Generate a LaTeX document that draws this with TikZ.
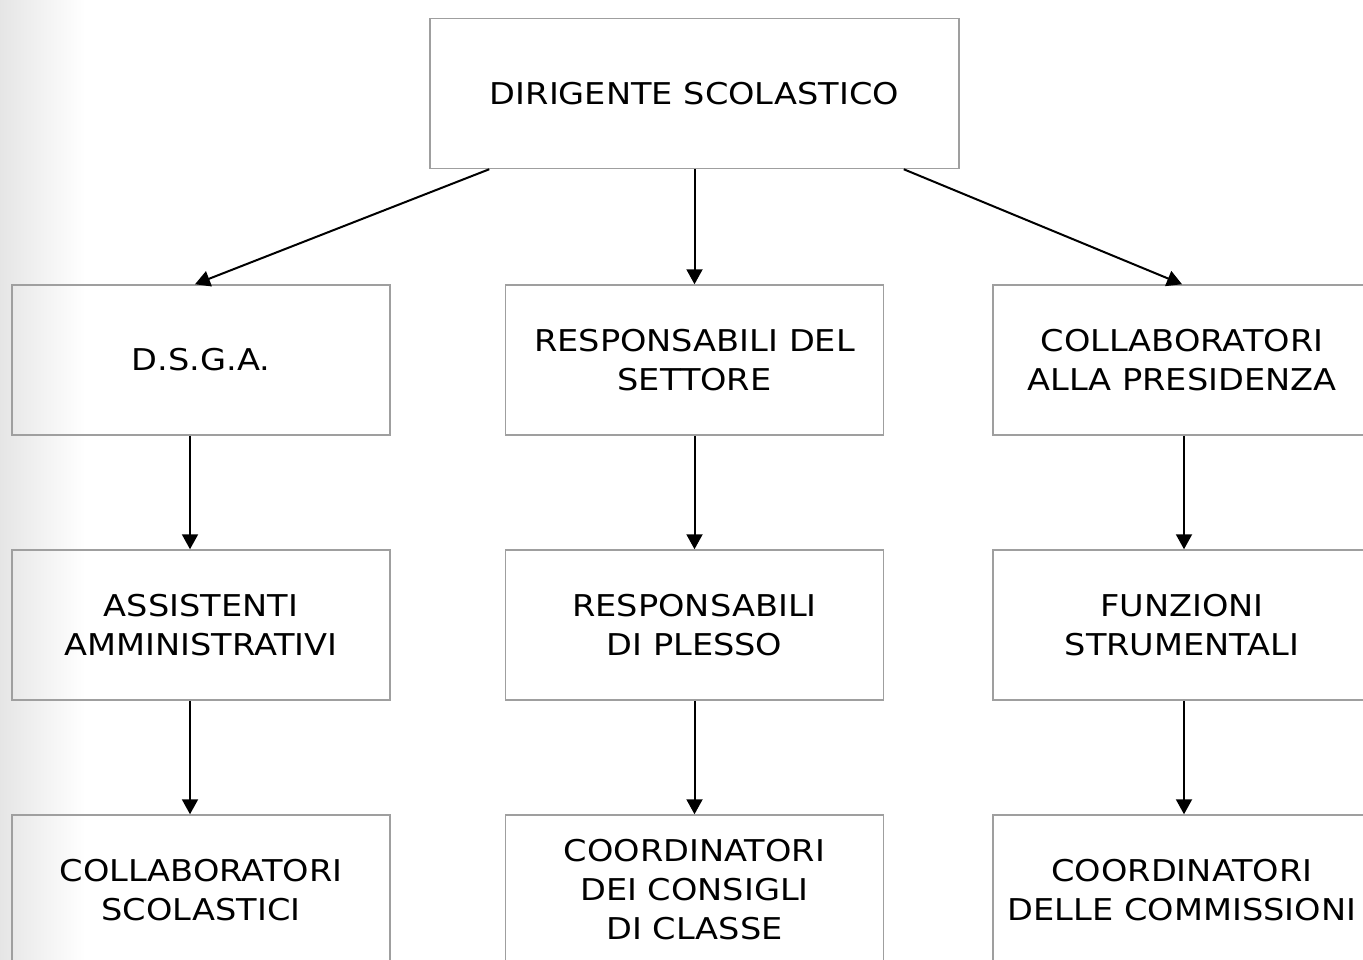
\documentclass[tikz,border=0pt]{standalone}
\usepackage{fontspec}
\setmainfont[FakeStretch=1.12]{DejaVu Sans}
\usetikzlibrary{arrows.meta}

\begin{document}
\begin{tikzpicture}[
  x=1pt, y=-1pt,
  every node/.style={
    draw=gray!75,
    line width=1.5pt,
    rectangle,
    align=center,
    minimum width=378pt,
    minimum height=150pt,
    font=\fontsize{30}{39}\selectfont,
  },
  link/.style={line width=2pt,-{Triangle[length=15pt,width=16pt]}},
  ]
  \useasboundingbox (0,0) rectangle (1363,959);
  \clip (0,0) rectangle (1363,959);
  \shade[left color=black!10, right color=white] (0,0) rectangle (85,959);

  \node[minimum width=529pt] (ds) at (694.5,93.5) {DIRIGENTE SCOLASTICO};

  % prima fila
  \node (dsga) at (201,360) {D.S.G.A.};
  \node (rset) at (694.5,360) {RESPONSABILI DEL\\SETTORE};
  \node (colp) at (1182,360) {COLLABORATORI\\ALLA PRESIDENZA};

  % seconda fila
  \node (assa) at (201,625) {ASSISTENTI\\AMMINISTRATIVI};
  \node (rple) at (694.5,625) {RESPONSABILI\\DI PLESSO};
  \node (fstr) at (1182,625) {FUNZIONI\\STRUMENTALI};

  % terza fila
  \node (cols) at (201,890) {COLLABORATORI\\SCOLASTICI};
  \node (ccla) at (694.5,890) {COORDINATORI\\DEI CONSIGLI\\DI CLASSE};
  \node (ccom) at (1182,890) {COORDINATORI\\DELLE COMMISSIONI};

  \draw[link] ([xshift=60pt]ds.south west) -- ([xshift=-6pt]dsga.north);
  \draw[link] (ds.south) -- (rset.north);
  \draw[link] ([xshift=-56pt]ds.south east) -- (colp.north);

  \draw[link] ([xshift=-11pt]dsga.south) -- ([xshift=-11pt]assa.north);
  \draw[link] ([xshift=-11pt]assa.south) -- ([xshift=-11pt]cols.north);
  \draw[link] (rset.south) -- (rple.north);
  \draw[link] (rple.south) -- (ccla.north);
  \draw[link] ([xshift=2pt]colp.south) -- ([xshift=2pt]fstr.north);
  \draw[link] ([xshift=2pt]fstr.south) -- ([xshift=2pt]ccom.north);
\end{tikzpicture}
\end{document}
